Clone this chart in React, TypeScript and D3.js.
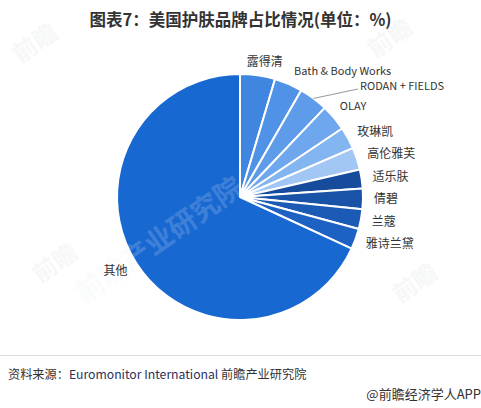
import React, { useEffect } from "react";
import * as d3 from "d3";

const brands = ["露得清", "Bath & Body Works", "RODAN + FIELDS", "OLAY", "玫琳凯", "高伦雅芙", "适乐肤", "倩碧", "兰蔻", "雅诗兰黛", "其他"];
const shares = [4.6, 3.7, 3.8, 3.5, 2.9, 2.9, 2.5, 2.7, 2.6, 2.7, 68.1];
const colors = ["#3f86e1", "#4f92e6", "#5e9ce9", "#6ea7ed", "#83b5f1", "#a3c7f5", "#174c9c", "#1953a8", "#1b5ab5", "#1d61c2", "#1868d2"];

const W = 481, H = 408;
const cx = 240, cy = 197, R = 123, LR = 137;

// layout tweaks for specific labels
const labelTweak: Record<string, { dx?: number; dy?: number; size?: number; leader?: [number, number] }> = {
  "露得清": { dx: -10, dy: 0 },
  "Bath & Body Works": { dx: 3, size: 11 },
  "RODAN + FIELDS": { leader: [358, 89], size: 11 },
  "OLAY": { dx: -2, dy: -3, size: 11 },
};

export default function App() {
  useEffect(() => {
    document.body.style.margin = "0";
  }, []);
  const data = brands.map((b, i) => ({ name: b, value: shares[i], color: colors[i] }));
  const pie = d3.pie<any>().value((d) => d.value).sort(null).startAngle(0).endAngle(2 * Math.PI);
  const arcs = pie(data);
  const arcGen = d3.arc<any>().innerRadius(0).outerRadius(R);
  const font = "'Noto Sans CJK SC', 'Noto Sans', sans-serif";

  return (
    <svg width={W} height={H} style={{ display: "block" }} fontFamily={font}>
      <rect width={W} height={H} fill="#fff" />
      <text x={W / 2} y={26} textAnchor="middle" fontSize={16.5} fontWeight="bold" fill="#333">
        图表7：美国护肤品牌占比情况(单位：%)
      </text>
      <g transform={`translate(${cx},${cy})`}>
        {arcs.map((a, i) => (
          <path key={i} d={arcGen(a) as string} fill={a.data.color} stroke="#fff" strokeWidth={2} strokeLinejoin="round" />
        ))}
      </g>
      {/* watermarks */}
      <g pointerEvents="none">
        <text x={165} y={248} opacity={0.18} transform="rotate(-35 165 248)" textAnchor="middle" fontSize={28} fontWeight="bold" fill="#e8eef5">
          前瞻产业研究院
        </text>
        {[[40, 50], [395, 45], [60, 270], [420, 290]].map(([x, y], i) => (
          <text key={i} x={x} y={y} opacity={0.07} transform={`rotate(-35 ${x} ${y})`} textAnchor="middle" fontSize={24} fontWeight="bold" fill="#8899aa">
            前瞻
          </text>
        ))}
      </g>
      {arcs.map((a, i) => {
        const mid = (a.startAngle + a.endAngle) / 2;
        const t = labelTweak[a.data.name] || {};
        const right = Math.sin(mid) >= 0;
        let x = cx + LR * Math.sin(mid) + (right ? -3 : 3) + (t.dx || 0);
        let y = cy - LR * Math.cos(mid) + (t.dy || 0);
        const size = t.size || 12;
        let line = null;
        if (t.leader) {
          const px = cx + R * Math.sin(mid), py = cy - R * Math.cos(mid);
          line = <line x1={px} y1={py} x2={t.leader[0]} y2={t.leader[1]} stroke="#999" strokeWidth={1} />;
          x = t.leader[0] + 2;
          y = t.leader[1] - 3;
        }
        return (
          <g key={"l" + i}>
            {line}
            <text x={x} y={y} dy="0.35em" textAnchor={right ? "start" : "end"} fontSize={size} fill="#333">
              {a.data.name}
            </text>
          </g>
        );
      })}
      <line x1={0} x2={W} y1={355.5} y2={355.5} stroke="#dcdcdc" strokeWidth={1} />
      <text x={8} y={375} dy="0.35em" fontSize={12.2} fill="#333">
        <tspan>资料来源：</tspan>
        <tspan fill="#2b2f5a">Euromonitor International</tspan>
        <tspan> 前瞻产业研究院</tspan>
      </text>
      <text x={W} y={394} dy="0.35em" textAnchor="end" fontSize={13} fill="#333">
        @前瞻经济学人APP
      </text>
    </svg>
  );
}
